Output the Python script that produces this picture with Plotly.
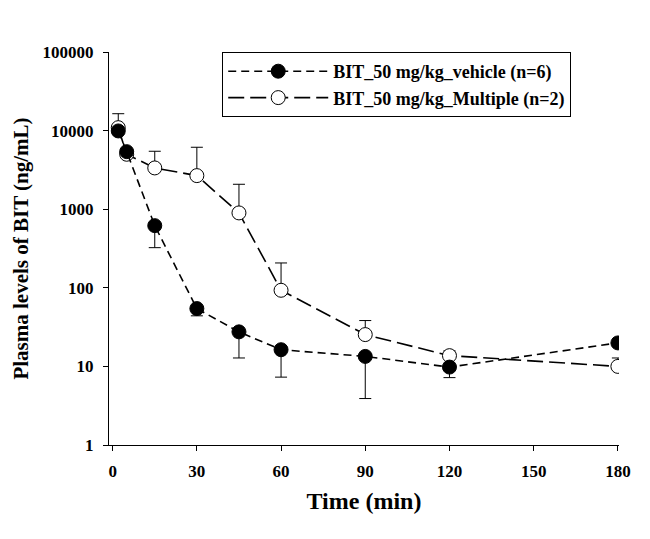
import plotly.graph_objects as go

time = [2, 5, 15, 30, 45, 60, 90, 120, 180]

vehicle_mean = [9900, 5400, 618, 54.4, 27.5, 16.3, 13.4, 9.8, 19.9]
vehicle_err_minus = [0, 0, 294, 10.4, 14.7, 9.0, 9.5, 2.6, 0]

multiple_mean = [10900, 5000, 3350, 2675, 897, 93, 25.4, 13.7, 10.0]
multiple_err_plus = [5500, 0, 2110, 3465, 1178, 114, 12.9, 2.1, 2.8]

x_ticks = [0, 30, 60, 90, 120, 150, 180]
y_ticks = [1, 10, 100, 1000, 10000, 100000]
y_ticklabels = ["1", "10", "100", "1000", "10000", "100000"]

FONT = "Liberation Serif, Times New Roman, serif"

fig = go.Figure()

fig.add_trace(go.Scatter(
    x=time, y=multiple_mean, name="BIT_50 mg/kg_Multiple (n=2)",
    mode="lines+markers",
    line=dict(color="black", width=1.6, dash="16px,6px"),
    marker=dict(symbol="circle", size=14, color="white",
                line=dict(color="black", width=1)),
    error_y=dict(type="data", symmetric=False, array=multiple_err_plus,
                 arrayminus=[0] * len(time), color="black", thickness=1, width=6),
    legendrank=2,
))

fig.add_trace(go.Scatter(
    x=time, y=vehicle_mean, name="BIT_50 mg/kg_vehicle (n=6)",
    mode="lines+markers",
    line=dict(color="black", width=1.6, dash="8px,5px"),
    marker=dict(symbol="circle", size=14, color="black",
                line=dict(color="black", width=1)),
    error_y=dict(type="data", symmetric=False, array=[0] * len(time),
                 arrayminus=vehicle_err_minus, color="black", thickness=1, width=6),
    legendrank=1,
))

fig.update_layout(
    width=650, height=539,
    margin=dict(l=97, r=39, t=44, b=102),
    paper_bgcolor="white", plot_bgcolor="white",
    font=dict(family=FONT, color="black"),
    showlegend=True,
    legend=dict(
        x=0.222, y=1.0, xanchor="left", yanchor="top",
        bgcolor="white", bordercolor="black", borderwidth=1,
        font=dict(family=FONT, size=18, weight="bold", color="black"),
        itemwidth=100,
    ),
    xaxis=dict(
        range=[-1.3, 180.4],
        tickvals=x_ticks,
        showgrid=False, zeroline=False,
        showline=True, linecolor="black", linewidth=1,
        ticks="outside", ticklen=5, tickcolor="black",
        ticklabelstandoff=6,
        tickfont=dict(family=FONT, size=17, weight="bold"),
        title=dict(text="Time (min)", font=dict(family=FONT, size=24, weight="bold"),
                   standoff=11),
    ),
    yaxis=dict(
        type="log", range=[0, 5],
        tickvals=y_ticks, ticktext=y_ticklabels,
        showgrid=False, zeroline=False,
        showline=True, linecolor="black", linewidth=1,
        ticks="outside", ticklen=5, tickcolor="black",
        ticklabelstandoff=6,
        tickfont=dict(family=FONT, size=17, weight="bold"),
        title=dict(text="Plasma levels of BIT (ng/mL)",
                   font=dict(family=FONT, size=21, weight="bold"), standoff=8),
    ),
)

fig.write_html("out.html")
